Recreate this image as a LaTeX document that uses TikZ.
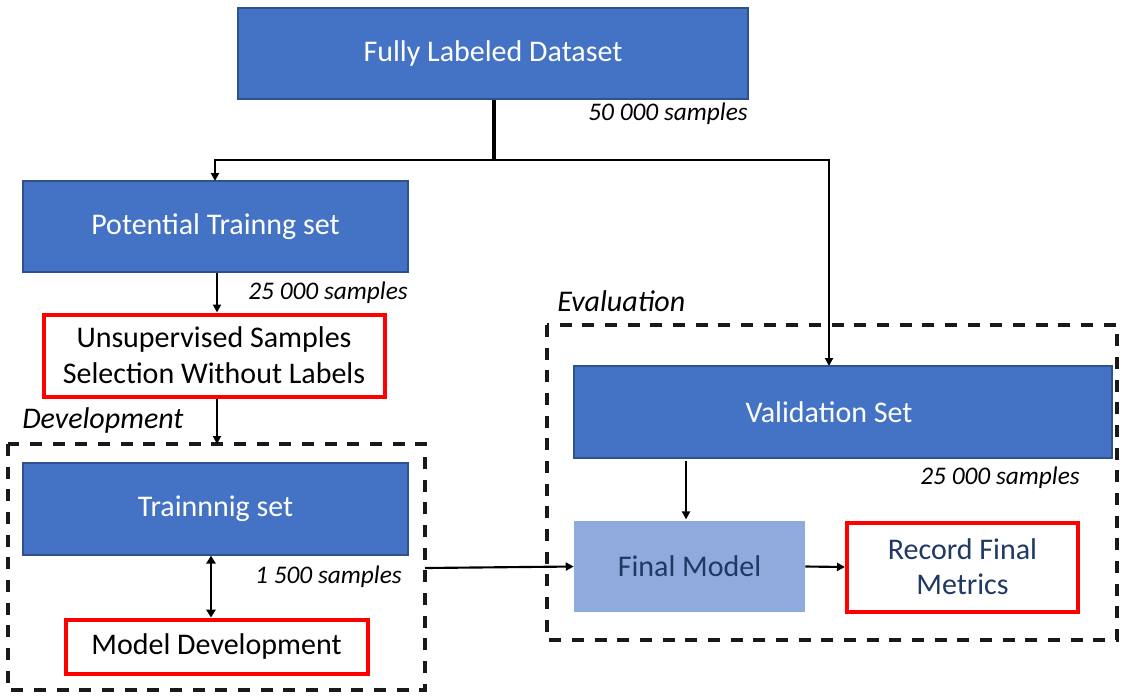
\documentclass[tikz,border=0pt]{standalone}
\usepackage{fontspec}
\setmainfont{Carlito}
\usetikzlibrary{arrows.meta}
\definecolor{boxblue}{HTML}{4472C4}
\definecolor{boxedge}{HTML}{2F528F}
\definecolor{lightblue}{HTML}{8FAADC}
\definecolor{darktext}{HTML}{1F3864}
\definecolor{redline}{HTML}{FF0000}
\begin{document}
\begin{tikzpicture}[x=0.75pt,y=-0.75pt,
  bluebox/.style={draw=boxedge,line width=1pt,fill=boxblue,text=white,font=\fontsize{22.5}{27}\selectfont,inner sep=0pt},
  redbox/.style={draw=redline,line width=3pt,fill=white,font=\fontsize{22.5}{27}\selectfont,inner sep=0pt,align=center},
  lightbox/.style={fill=lightblue,text=darktext,font=\fontsize{22.5}{27}\selectfont,inner sep=0pt},
  samplelbl/.style={font=\itshape\fontsize{19}{22}\selectfont,inner sep=0pt},
  grouplabel/.style={font=\itshape\fontsize{22.5}{27}\selectfont,inner sep=0pt},
  groupbox/.style={draw=black!90,line width=2.6pt,dash pattern=on 9pt off 8pt},
  conn/.style={line width=1.6pt,-{Triangle[length=6pt,width=6pt]}},
  dconn/.style={line width=2.2pt,{Triangle[length=6pt,width=7pt]}-{Triangle[length=6pt,width=7pt]}}]
\useasboundingbox (0,0) rectangle (1123,697);
% group frames
\draw[groupbox] (8,444) rectangle (425,690);
\draw[groupbox] (547,325) rectangle (1117,640);
\node[grouplabel,anchor=west] (devlbl) at (22,420) {Development};
\node[grouplabel,anchor=west] (evallbl) at (557,301) {Evaluation};
\coordinate (devright) at (425,568);
\coordinate (devtop) at (217,444);
% boxes
\node[bluebox,minimum width=510*0.75pt,minimum height=91*0.75pt] (full) at (493,53.5) {Fully Labeled Dataset};
\node[samplelbl,anchor=east] (s50) at (748,114) {50 000 samples};
\node[bluebox,minimum width=385*0.75pt,minimum height=91*0.75pt] (pot) at (215.5,226.5) {Potential Trainng set};
\node[samplelbl,anchor=east] (s25a) at (408,293) {25 000 samples};
\node[redbox,minimum width=341*0.75pt,minimum height=82*0.75pt] (unsup) at (214,355.5) {Unsupervised Samples\\Selection Without Labels};
\node[bluebox,minimum width=538*0.75pt,minimum height=92*0.75pt] (val) at (843,412) {};
\node[text=white,font=\fontsize{22.5}{27}\selectfont,inner sep=0pt] (valtxt) at (829,412) {Validation Set};
\node[bluebox,minimum width=385*0.75pt,minimum height=92*0.75pt] (train) at (215.5,509) {Trainnnig set};
\node[samplelbl,anchor=east] (s15) at (402,577) {1 500 samples};
\node[redbox,minimum width=302*0.75pt,minimum height=54*0.75pt] (mdev) at (216.5,646.5) {Model Development};
\node[samplelbl,anchor=east] (s25b) at (1080,478) {25 000 samples};
\node[lightbox,minimum width=231*0.75pt,minimum height=91*0.75pt] (final) at (689.5,566.5) {Final Model};
\node[redbox,text=darktext,minimum width=231*0.75pt,minimum height=89*0.75pt,align=center] (rec) at (962.5,567) {Record Final\\[-1pt]Metrics};
% connectors
\coordinate (split) at (494,160);
\coordinate (potin) at (215,181);
\coordinate (valin) at (829,366);
\draw[line width=3pt] (full.south -| split) -- ([yshift=1pt]split);
\draw[conn] (split) -| (potin);
\draw[conn] (split) -| (valin);
\draw[conn] (pot.south -| devtop) -- (unsup.north -| devtop);
\draw[conn] (unsup.south -| devtop) -- (devtop);
\coordinate (dv) at (211,0);
\draw[dconn] (train.south -| dv) -- (mdev.north -| dv);
\draw[conn] (devright) -- (final.west);
\coordinate (fv) at (686,0);
\draw[conn] ([yshift=-2*0.75pt]val.south -| fv) -- ([yshift=1pt]final.north -| fv);
\draw[conn] (final.east) -- (rec.west);
\end{tikzpicture}
\end{document}
